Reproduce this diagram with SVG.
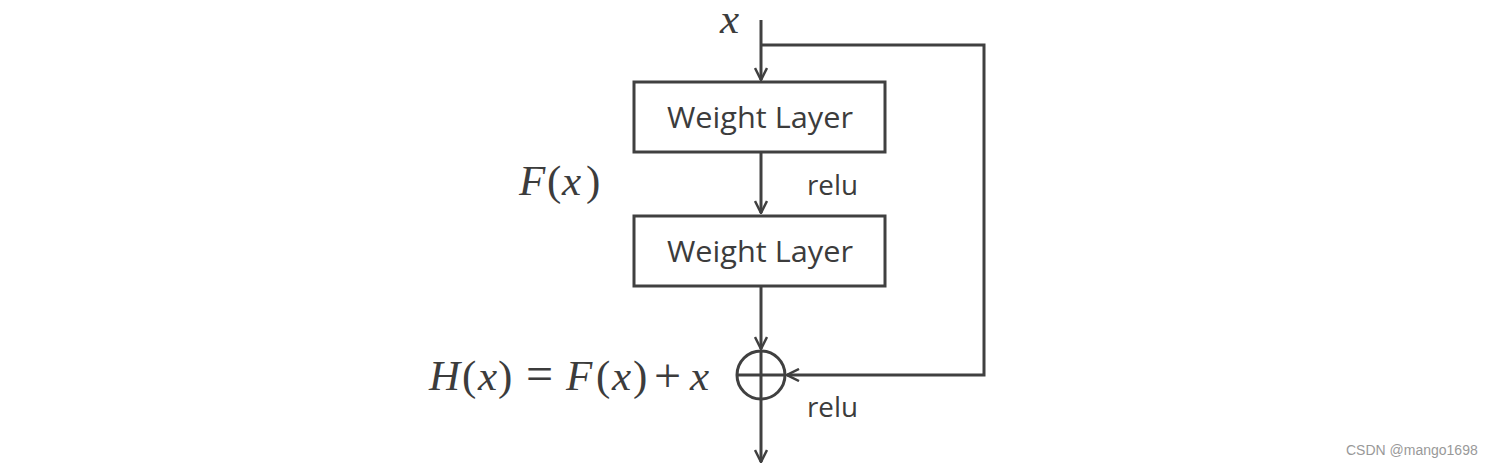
<svg xmlns="http://www.w3.org/2000/svg" width="1496" height="468" viewBox="0 0 1496 468">
<style>
.box{fill:#fff;stroke:#404040;stroke-width:3}
.ln{fill:none;stroke:#404040;stroke-width:3}
.lbl{font-family:"Open Sans","Noto Sans",sans-serif;font-size:29px;fill:#3c3c3c}
.relu{font-family:"Open Sans","Noto Sans",sans-serif;font-size:27px;fill:#3c3c3c}
.math{font-family:"Liberation Serif",serif;font-style:italic;font-size:43px;fill:#3c3c3c}
.up{font-style:normal}
.op{font-style:normal;font-size:48px}
</style>
<defs>
<marker id="ah" viewBox="0 0 14 14" refX="13" refY="7" markerWidth="14" markerHeight="14" markerUnits="userSpaceOnUse" orient="auto">
<path d="M1,1 L13,7 L1,13" fill="none" stroke="#404040" stroke-width="2.5"/>
</marker>
</defs>
<rect width="1496" height="468" fill="#fff"/>
<g id="connectors">
<path class="ln" d="M761,20 V80" marker-end="url(#ah)"/>
<path class="ln" d="M761,45 H984 V375 H787" marker-end="url(#ah)"/>
<path class="ln" d="M761,153 V213" marker-end="url(#ah)"/>
<path class="ln" d="M761,287 V349" marker-end="url(#ah)"/>
<path class="ln" d="M761,399 V462" marker-end="url(#ah)"/>
</g>
<g id="input-x"><text class="math" x="720" y="33" font-size="31">x</text></g>
<g id="weight1">
<rect class="box" x="634" y="82" width="251" height="70"/>
<text class="lbl" x="667" y="128" textLength="186" lengthAdjust="spacingAndGlyphs">Weight Layer</text>
</g>
<g id="relu1"><text class="relu" x="807" y="195" textLength="51" lengthAdjust="spacingAndGlyphs">relu</text></g>
<g id="Fx"><text class="math" y="195"><tspan x="519">F</tspan><tspan class="up" x="547">(</tspan><tspan x="562">x</tspan><tspan class="up" x="586">)</tspan></text></g>
<g id="weight2">
<rect class="box" x="634" y="216" width="251" height="70"/>
<text class="lbl" x="667" y="262" textLength="186" lengthAdjust="spacingAndGlyphs">Weight Layer</text>
</g>
<g id="sum">
<circle class="ln" cx="761" cy="375" r="24"/>
<path class="ln" d="M737,375 H785 M761,351 V399"/>
</g>
<g id="Hx"><text class="math" y="390"><tspan x="429">H</tspan><tspan class="up" x="462">(</tspan><tspan x="478">x</tspan><tspan class="up" x="498">)</tspan><tspan class="op" x="526">=</tspan><tspan x="566">F</tspan><tspan class="up" x="596">(</tspan><tspan x="612">x</tspan><tspan class="up" x="633">)</tspan><tspan class="op" x="654" font-size="54" dy="2">+</tspan><tspan x="690" dy="-2">x</tspan></text></g>
<g id="relu2"><text class="relu" x="807" y="417" textLength="51" lengthAdjust="spacingAndGlyphs">relu</text></g>
<text x="1346" y="455" font-family="Liberation Sans,sans-serif" font-size="14" fill="#999">CSDN @mango1698</text>
</svg>
